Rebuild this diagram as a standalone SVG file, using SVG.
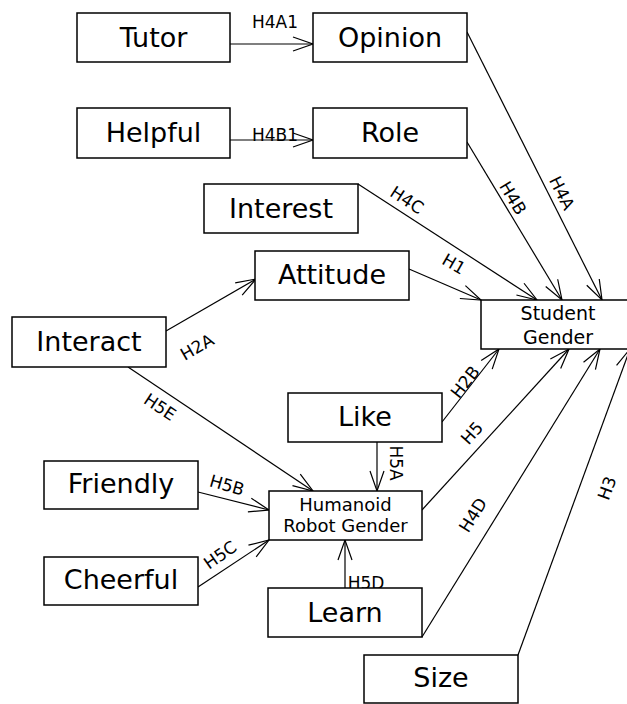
<svg xmlns="http://www.w3.org/2000/svg" width="627" height="704" viewBox="0 0 627 704">
<defs>
<marker id="arr" markerUnits="userSpaceOnUse" markerWidth="30" markerHeight="30" refX="0" refY="0" viewBox="-25 -12 30 24" orient="auto" overflow="visible">
<path d="M -20 -7 L 0 0 L -20 7" fill="none" stroke="#000" stroke-width="1.2"/>
</marker>
<style>
.box rect{fill:#fff;stroke:#000;stroke-width:1.5}
.box text{font-family:"DejaVu Sans",Verdana,sans-serif;font-size:27px;fill:#000;text-anchor:middle}
.box text.sm{font-size:19px}
.box text.xs{font-size:18px}
#edges line{stroke:#000;stroke-width:1.2;fill:none;marker-end:url(#arr)}
#edges text{font-family:"DejaVu Sans",Verdana,sans-serif;font-size:17px;fill:#000;text-anchor:middle}
</style>
</defs>
<rect width="627" height="704" fill="#fff"/>
<g id="edges">
<line x1="230" y1="44" x2="313" y2="44"/>
<line x1="230" y1="140" x2="313" y2="140"/>
<line x1="467" y1="32" x2="602" y2="300"/>
<line x1="467" y1="142" x2="562" y2="300"/>
<line x1="358" y1="184" x2="537" y2="300"/>
<line x1="409" y1="269" x2="481" y2="300"/>
<line x1="166" y1="331" x2="256" y2="279"/>
<line x1="128" y1="367" x2="313" y2="491"/>
<line x1="442" y1="422" x2="499" y2="349"/>
<line x1="422" y1="510" x2="569" y2="349"/>
<line x1="422" y1="637" x2="600" y2="349"/>
<line x1="518" y1="655" x2="630" y2="349"/>
<line x1="377" y1="442" x2="377" y2="491"/>
<line x1="198" y1="492" x2="269" y2="510"/>
<line x1="198" y1="587" x2="269" y2="540"/>
<line x1="345" y1="588" x2="345" y2="540"/>
<text x="275" y="28">H4A1</text>
<text x="275" y="141">H4B1</text>
<text x="366" y="589">H5D</text>
<text transform="translate(562,193) rotate(63.3)" y="6">H4A</text>
<text transform="translate(513,198) rotate(59)" y="6">H4B</text>
<text transform="translate(407,200) rotate(33)" y="6">H4C</text>
<text transform="translate(454,264) rotate(30)" y="6">H1</text>
<text transform="translate(197,347) rotate(-30)" y="6">H2A</text>
<text transform="translate(160,407) rotate(33.6)" y="6">H5E</text>
<text transform="translate(465,382) rotate(-52)" y="6">H2B</text>
<text transform="translate(472,433) rotate(-48)" y="6">H5</text>
<text transform="translate(473,515) rotate(-58)" y="6">H4D</text>
<text transform="translate(607,488) rotate(-70)" y="6">H3</text>
<text transform="translate(396,463) rotate(90)" y="6">H5A</text>
<text transform="translate(227,485) rotate(16)" y="6">H5B</text>
<text transform="translate(220,555) rotate(-35)" y="6">H5C</text>
</g>
<g id="tutor" class="box"><rect x="77" y="13" width="153" height="49"/><text x="153.5" y="47">Tutor</text></g>
<g id="opinion" class="box"><rect x="313" y="13" width="154" height="49"/><text x="390" y="47">Opinion</text></g>
<g id="helpful" class="box"><rect x="77" y="108" width="153" height="50"/><text x="153.5" y="142">Helpful</text></g>
<g id="role" class="box"><rect x="313" y="108" width="154" height="50"/><text x="390" y="142">Role</text></g>
<g id="interest" class="box"><rect x="204" y="184" width="154" height="49"/><text x="281" y="218">Interest</text></g>
<g id="attitude" class="box"><rect x="255" y="251" width="154" height="49"/><text x="332" y="284">Attitude</text></g>
<g id="interact" class="box"><rect x="12" y="317" width="154" height="50"/><text x="89" y="351">Interact</text></g>
<g id="student-gender" class="box"><rect x="481" y="300" width="154" height="49"/><text class="sm" x="558" y="320">Student</text><text class="sm" x="558" y="344">Gender</text></g>
<g id="like" class="box"><rect x="288" y="393" width="154" height="49"/><text x="365" y="426">Like</text></g>
<g id="humanoid" class="box"><rect x="269" y="491" width="153" height="49"/><text class="xs" x="345.5" y="511">Humanoid</text><text class="xs" x="345.5" y="532">Robot Gender</text></g>
<g id="friendly" class="box"><rect x="44" y="461" width="154" height="48"/><text x="121" y="493">Friendly</text></g>
<g id="cheerful" class="box"><rect x="44" y="557" width="154" height="48"/><text x="121" y="589">Cheerful</text></g>
<g id="learn" class="box"><rect x="268" y="588" width="154" height="49"/><text x="345" y="622">Learn</text></g>
<g id="size" class="box"><rect x="364" y="655" width="154" height="48"/><text x="441" y="687">Size</text></g>
</svg>
